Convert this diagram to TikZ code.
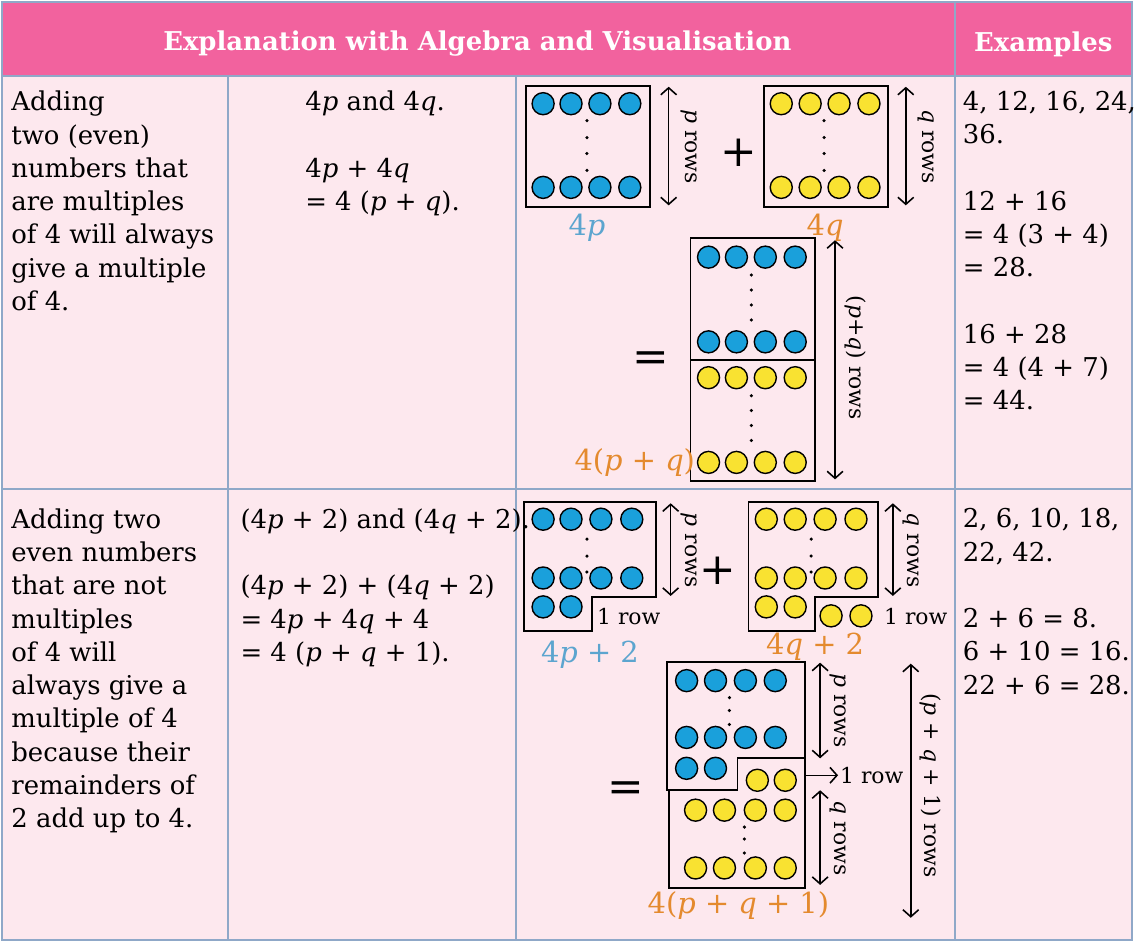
\documentclass[tikz,border=0pt]{standalone}
\usepackage{fontspec}
\setmainfont{DejaVu Serif}
\usetikzlibrary{arrows.meta}
\definecolor{headpink}{HTML}{F2629E}
\definecolor{bodypink}{HTML}{FDE8EE}
\definecolor{gridline}{HTML}{8FA8C8}
\definecolor{dotblue}{HTML}{1AA0DB}
\definecolor{dotyellow}{HTML}{F9E231}
\definecolor{labblue}{HTML}{5CA5CF}
\definecolor{laborange}{HTML}{E48A2E}
\tikzset{
  bdot/.style={circle,draw=black,fill=dotblue,line width=0.8pt,minimum size=12.6pt,inner sep=0pt},
  ydot/.style={circle,draw=black,fill=dotyellow,line width=0.8pt,minimum size=12.6pt,inner sep=0pt},
  frame/.style={draw=black,line width=1pt},
  dim/.style={{Straight Barb[length=4pt,width=9pt]}-{Straight Barb[length=4pt,width=9pt]},line width=0.9pt},
  rowlab/.style={rotate=-90,font=\fontsize{12.5}{14}\selectfont},
  cell/.style={anchor=north west,align=left,inner sep=0pt,font=\fontsize{14.8}{19}\selectfont},
  lab/.style={font=\fontsize{16.5}{18}\selectfont}
}
\begin{document}
\begin{tikzpicture}[x=0.02cm,y=-0.02cm]
%% Table
\fill[bodypink] (0,0) rectangle (1136,943);
\fill[headpink] (0,0) rectangle (1136,75);
\draw[gridline,line width=1.2pt] (1,1) rectangle (1135,942);
\draw[gridline,line width=1.2pt] (0,75) -- (1136,75) (0,490) -- (1136,490);
\draw[gridline,line width=1.2pt] (957,0) -- (957,943);
\foreach \x in {228,517} \draw[gridline,line width=1.2pt] (\x,75) -- (\x,943);
\node[white,font=\bfseries\fontsize{14.8}{18}\selectfont] (h1) at (478,43) {Explanation with Algebra and Visualisation};
\node[white,font=\bfseries\fontsize{14.8}{18}\selectfont] (h2) at (1046,43) {Examples};
%% Texts
\node[cell] (t1) at (10,90) {Adding\\two (even)\\numbers that\\are multiples\\of 4 will always\\give a multiple\\of 4.};
\node[cell] (t2) at (10,509) {Adding two\\even numbers\\that are not\\multiples\\of 4 will\\always give a\\multiple of 4\\because their\\remainders of\\2 add up to 4.};
\node[cell] (a1) at (305,90) {4\textit{p} and 4\textit{q}.\\[19pt]4\textit{p} + 4\textit{q}\\= 4 (\textit{p} + \textit{q}).};
\node[cell] (a2) at (240,509) {(4\textit{p} + 2) and (4\textit{q} + 2).\\[19pt](4\textit{p} + 2) + (4\textit{q} + 2)\\= 4\textit{p} + 4\textit{q} + 4\\= 4 (\textit{p} + \textit{q} + 1).};
\node[cell] (e1) at (965,90) {4, 12, 16, 24,\\36.\\[19pt]12 + 16\\= 4 (3 + 4)\\= 28.\\[19pt]16 + 28\\= 4 (4 + 7)\\= 44.};
\node[cell] (e2) at (965,509) {2, 6, 10, 18,\\22, 42.\\[19pt]2 + 6 = 8.\\6 + 10 = 16.\\22 + 6 = 28.};
%% Row 1 diagram
\draw[frame] (527,85) rectangle (651,207);
\draw[frame] (766,85) rectangle (890,207);
\draw[frame] (692,238) rectangle (817,482) (692,360) -- (817,360);
\foreach \x in {544,572,601,631} { \node[bdot] at (\x,103) {}; \node[bdot] at (\x,187) {}; }
\foreach \x in {783,812,841,871} { \node[ydot] at (\x,103) {}; \node[ydot] at (\x,187) {}; }
\foreach \x in {710,738,767,797} { \node[bdot] at (\x,257) {}; \node[bdot] at (\x,342) {};
  \node[ydot] at (\x,378) {}; \node[ydot] at (\x,463) {}; }
\foreach \yy in {120,137,153,170} { \fill (588,\yy) circle (1pt); \fill (826,\yy) circle (1pt); }
\foreach \yy in {275,290,305,320} \fill (753,\yy) circle (1pt);
\foreach \yy in {396,411,426,441} \fill (753,\yy) circle (1pt);
\draw[dim] (670,86) -- (670,205);
\draw[dim] (908,86) -- (908,205);
\draw[dim] (837,240) -- (837,480);
\node[rowlab] at (690,146) {\textit{p} rows};
\node[rowlab] at (928,146) {\textit{q} rows};
\node[rowlab] at (858,358) {(\textit{p}+\textit{q}) rows};
\node[font=\fontsize{25}{25}\selectfont] at (740,152) {+};
\node[font=\fontsize{25}{25}\selectfont] at (652,362) {=};
\node[lab,labblue] at (588,228) {4\textit{p}};
\node[lab,laborange] at (827,228) {4\textit{q}};
\node[lab,laborange] at (636,463) {4(\textit{p} + \textit{q})};
%% Row 2 diagram
\draw[frame] (525,503) -- (657,503) -- (657,598) -- (593,598) -- (593,632) -- (525,632) -- cycle;
\draw[frame] (750,503) -- (880,503) -- (880,598) -- (817,598) -- (817,632) -- (750,632) -- cycle;
\foreach \x in {544,572,602,633} { \node[bdot] at (\x,520) {}; \node[bdot] at (\x,579) {}; }
\foreach \x in {544,572} \node[bdot] at (\x,608) {};
\foreach \x in {768,797,827,858} { \node[ydot] at (\x,520) {}; \node[ydot] at (\x,579) {}; }
\foreach \x in {768,797} \node[ydot] at (\x,608) {};
\foreach \x in {833,863} \node[ydot] at (\x,617) {};
\foreach \yy in {540,557,573} { \fill (588,\yy) circle (1pt); \fill (813,\yy) circle (1pt); }
\draw[dim] (672,504) -- (672,597);
\draw[dim] (895,504) -- (895,597);
\node[rowlab] at (690,551) {\textit{p} rows};
\node[rowlab] at (913,551) {\textit{q} rows};
\node[font=\fontsize{12.5}{14}\selectfont] at (630,618) {1 row};
\node[font=\fontsize{12.5}{14}\selectfont] at (918,618) {1 row};
\node[font=\fontsize{25}{25}\selectfont] at (719,572) {+};
\node[lab,labblue] at (591,656) {4\textit{p} + 2};
\node[lab,laborange] at (817,648) {4\textit{q} + 2};
\draw[frame] (668,663) -- (807,663) -- (807,760) -- (739,760) -- (739,792) -- (668,792) -- cycle;
\draw[frame] (739,760) -- (807,760) -- (807,890) -- (670,890) -- (670,792) -- (739,792);
\foreach \x in {688,717,747,777} { \node[bdot] at (\x,682) {}; \node[bdot] at (\x,739) {}; }
\foreach \x in {688,717} \node[bdot] at (\x,770) {};
\foreach \x in {759,787} \node[ydot] at (\x,782) {};
\foreach \x in {697,726,757,787} { \node[ydot] at (\x,812) {}; \node[ydot] at (\x,870) {}; }
\foreach \yy in {699,712,726} \fill (731,\yy) circle (1pt);
\foreach \yy in {829,841,855} \fill (746,\yy) circle (1pt);
\coordinate (oneA) at (807,777);
\coordinate (oneB) at (840,777);
\draw[-{Straight Barb[length=4pt,width=9pt]},line width=0.9pt] (oneA) -- (oneB);
\node[font=\fontsize{12.5}{14}\selectfont,anchor=west,inner sep=1pt] at (oneB) {1 row};
\draw[dim] (822,664) -- (822,760);
\draw[dim] (822,792) -- (822,887);
\draw[dim] (913,665) -- (913,920);
\node[rowlab] at (840,712) {\textit{p} rows};
\node[rowlab] at (840,840) {\textit{q} rows};
\node[rowlab] at (933,787) {(\textit{p} + \textit{q} + 1) rows};
\node[font=\fontsize{25}{25}\selectfont] at (627,793) {=};
\node[lab,laborange] at (740,908) {4(\textit{p} + \textit{q} + 1)};
\end{tikzpicture}
\end{document}
